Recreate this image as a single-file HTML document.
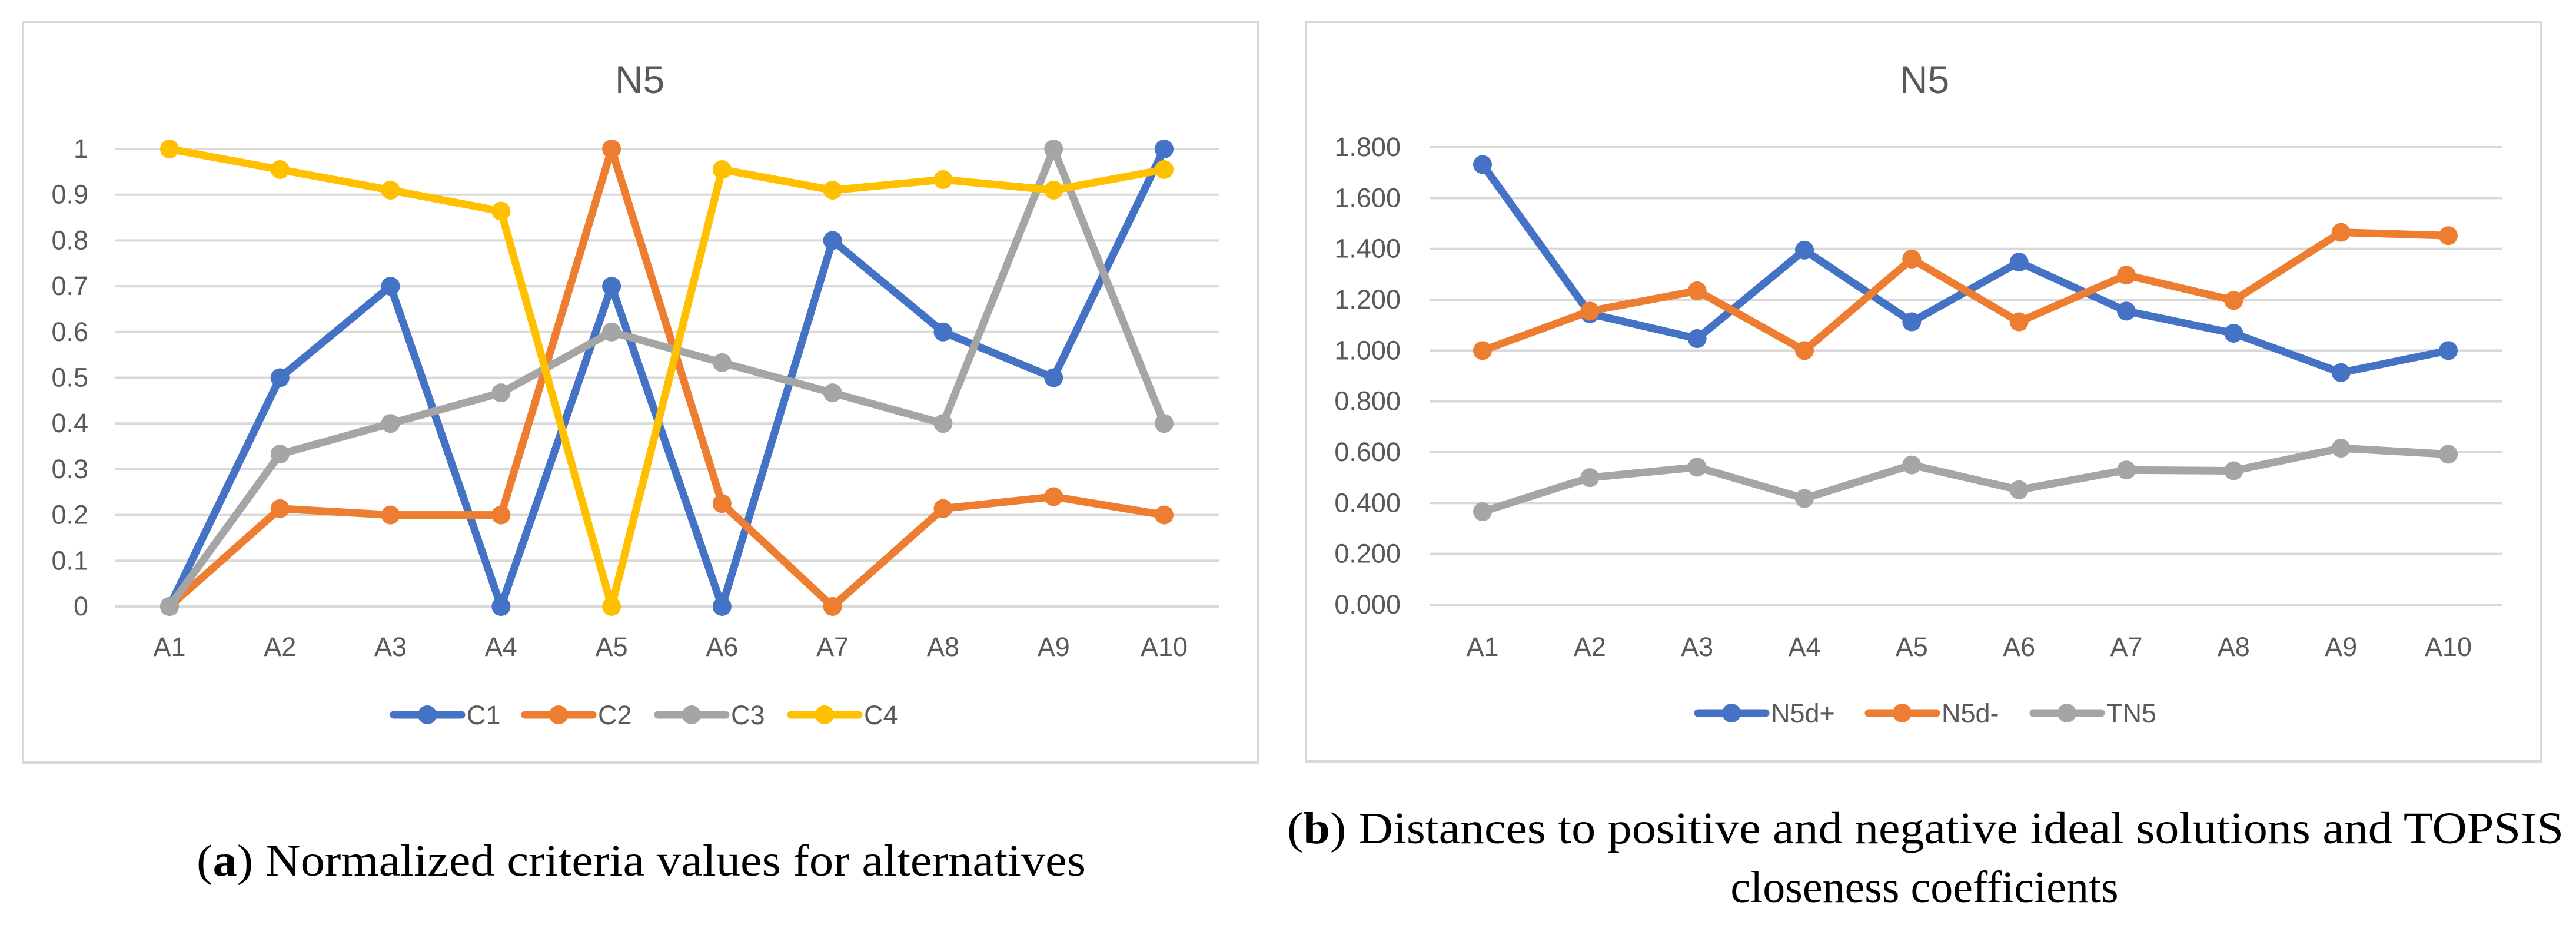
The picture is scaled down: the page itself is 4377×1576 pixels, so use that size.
<!DOCTYPE html>
<html><head><meta charset="utf-8">
<style>
html,body{margin:0;padding:0;background:#fff;}
svg{display:block;}
.tick{font-family:"Liberation Sans",sans-serif;font-size:45px;fill:#595959;}
.ttl{font-family:"Liberation Sans",sans-serif;font-size:66px;fill:#595959;}
.cap{font-family:"Liberation Serif",serif;font-size:76px;fill:#000;}
</style></head>
<body>
<svg id="svg" xmlns="http://www.w3.org/2000/svg" width="4377" height="1576" viewBox="0 0 4377 1576">
<rect x="39" y="37" width="2098" height="1258" fill="#fff" stroke="#d9d9d9" stroke-width="4"/>
<rect x="2219" y="37" width="2098" height="1256" fill="#fff" stroke="#d9d9d9" stroke-width="4"/>
<text class="ttl" x="1087" y="158" text-anchor="middle">N5</text>
<text class="ttl" x="3270" y="158" text-anchor="middle">N5</text>
<g id="ga"></g>
<g id="gb"></g>
<text class="cap" x="334" y="1487" textLength="1511" lengthAdjust="spacingAndGlyphs">(<tspan font-weight="bold">a</tspan>) Normalized criteria values for alternatives</text>
<text class="cap" x="2187" y="1432" textLength="2169" lengthAdjust="spacingAndGlyphs">(<tspan font-weight="bold">b</tspan>) Distances to positive and negative ideal solutions and TOPSIS</text>
<text class="cap" x="3270" y="1532" text-anchor="middle">closeness coefficients</text>
</svg>
<script>
const categories = ["A1","A2","A3","A4","A5","A6","A7","A8","A9","A10"];
const aTicks = ["0","0.1","0.2","0.3","0.4","0.5","0.6","0.7","0.8","0.9","1"];
const aTickVals = [0,0.1,0.2,0.3,0.4,0.5,0.6,0.7,0.8,0.9,1];
const c1 = [0,0.5,0.7,0,0.7,0,0.8,0.6,0.5,1];
const c2 = [0,0.214,0.2,0.2,1,0.225,0,0.214,0.24,0.2];
const c3 = [0,0.333,0.4,0.467,0.6,0.533,0.467,0.4,1,0.4];
const c4 = [1,0.955,0.91,0.864,0,0.955,0.91,0.933,0.91,0.955];
const aNames = ["C1","C2","C3","C4"];
const bTicks = ["0.000","0.200","0.400","0.600","0.800","1.000","1.200","1.400","1.600","1.800"];
const bTickVals = [0,0.2,0.4,0.6,0.8,1.0,1.2,1.4,1.6,1.8];
const n5dPlus = [1.732,1.145,1.047,1.395,1.113,1.348,1.155,1.068,0.913,1.0];
const n5dMinus = [1.0,1.155,1.235,1.0,1.36,1.113,1.297,1.197,1.465,1.452];
const tn5 = [0.366,0.5,0.541,0.418,0.55,0.452,0.53,0.527,0.616,0.592];
const bNames = ["N5d+","N5d-","TN5"];
const colors = ["#4472c4","#ed7d31","#a5a5a5","#ffc000"];
const NS = "http://www.w3.org/2000/svg";
function mk(tag, attrs, parent){const e=document.createElementNS(NS,tag);for(const k in attrs)e.setAttribute(k,attrs[k]);parent.appendChild(e);return e;}
function drawChart(g, cfg){
  const xs = i => cfg.x0 + i*(cfg.x1-cfg.x0)/(categories.length-1);
  const ys = v => cfg.yBot - (v-cfg.vmin)/(cfg.vmax-cfg.vmin)*(cfg.yBot-cfg.yTop);
  cfg.tickVals.forEach((v,i)=>{
    const l = mk("line",{x1:cfg.gx0,x2:cfg.gx1,y1:ys(v),y2:ys(v),stroke:"#d9d9d9","stroke-width":4},g);
    
    
    const t = mk("text",{x:cfg.lx,y:ys(v)+15,"text-anchor":"end",class:"tick"},g);
    t.textContent = cfg.ticks[i];
    
    
  });
  categories.forEach((c,i)=>{
    const t = mk("text",{x:xs(i),y:1114,"text-anchor":"middle",class:"tick"},g);
    t.textContent = c;
    
    
  });
  cfg.series.forEach((s,si)=>{
    const pts = s.map((v,i)=>xs(i)+","+ys(v)).join(" ");
    const pl = mk("polyline",{points:pts,fill:"none",stroke:colors[si],"stroke-width":13,"stroke-linejoin":"round","stroke-linecap":"round"},g);
    
    
    s.forEach((v,i)=>{
      const c = mk("circle",{cx:xs(i),cy:ys(v),r:16,fill:colors[si]},g);
      
      
    });
  });
  cfg.names.forEach((n,si)=>{
    const lx = cfg.legX[si];
    const l = mk("line",{x1:lx,x2:lx+115,y1:cfg.legY,y2:cfg.legY,stroke:colors[si],"stroke-width":13,"stroke-linecap":"round"},g);
    
    
    const c = mk("circle",{cx:lx+57,cy:cfg.legY,r:16,fill:colors[si]},g);
    
    
    const t = mk("text",{x:lx+124,y:cfg.legY+16,class:"tick"},g);
    t.textContent = n;
    
    
  });
}
drawChart(document.getElementById("ga"),{x0:288,x1:1978,gx0:196,gx1:2072,yTop:253,yBot:1030,vmin:0,vmax:1,lx:150,
  ticks:aTicks,tickVals:aTickVals,series:[c1,c2,c3,c4],names:aNames,legY:1214,legX:[669,892,1118,1344]});
drawChart(document.getElementById("gb"),{x0:2519,x1:4160,gx0:2429,gx1:4251,yTop:250,yBot:1027,vmin:0,vmax:1.8,lx:2380,
  ticks:bTicks,tickVals:bTickVals,series:[n5dPlus,n5dMinus,tn5],names:bNames,legY:1211,legX:[2885,3175,3455]});
</script>
</body></html>
